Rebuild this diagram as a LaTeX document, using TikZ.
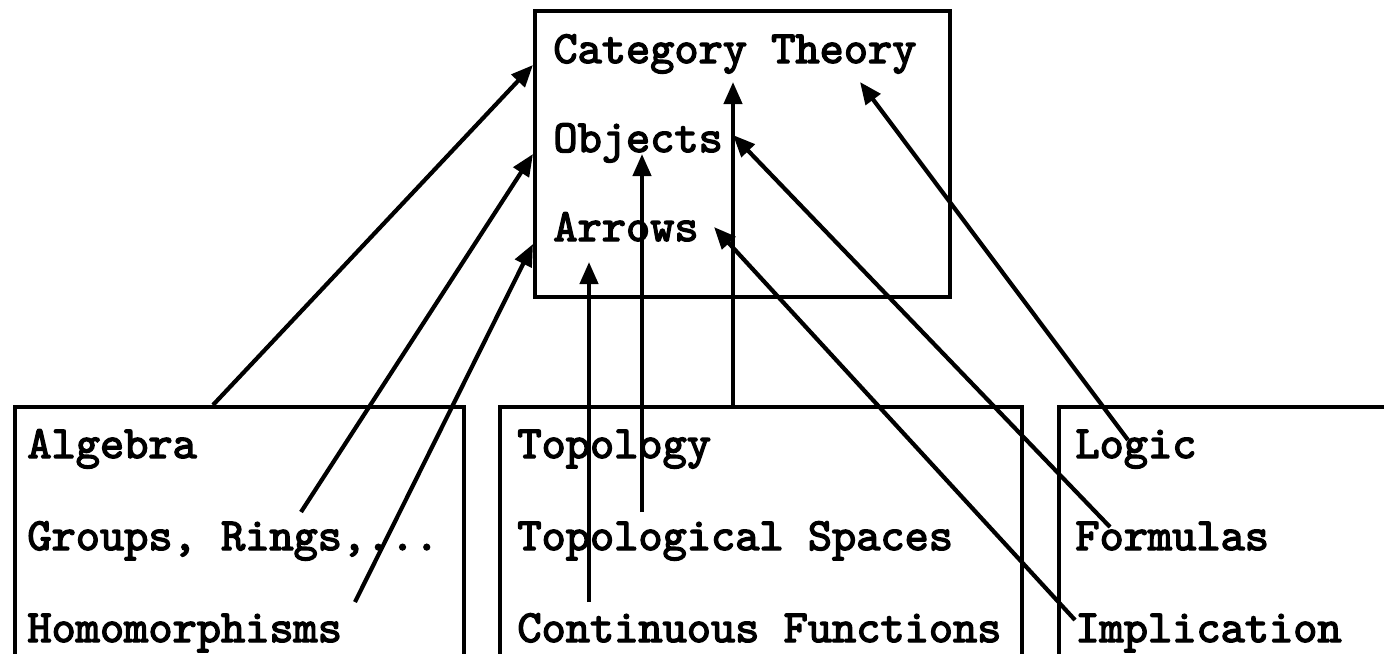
\documentclass[tikz,border=0pt]{standalone}
\usepackage{fontspec}
\newfontfamily\cbold{lmmono10-regular.otf}[FakeBold=3]
\usetikzlibrary{arrows.meta}
\begin{document}
\begin{tikzpicture}[x=0.5pt,y=-0.5pt,
  lbl/.style={anchor=base west, inner sep=0pt, font=\cbold\fontsize{23.05pt}{26pt}\selectfont},
  box/.style={draw, line width=2.2pt, anchor=north west, inner sep=0pt},
  conn/.style={line width=2.1pt, -{Triangle[length=11pt,width=9pt]}}]
\useasboundingbox (0,0) rectangle (1384,653);
\clip (0,0) rectangle (1384,653);
% boxes
\node[box, minimum width=207.5pt, minimum height=143pt] (ctbox) at (533,9) {};
\node[box, minimum width=224.5pt, minimum height=160pt] (algbox) at (13,405) {};
\node[box, minimum width=261pt, minimum height=160pt] (topbox) at (498,405) {};
\node[box, minimum width=190pt, minimum height=160pt] (logbox) at (1057,405) {};
% texts
\node[lbl] (ct) at (553,63) {Category Theory};
\node[lbl] (obj) at (553,152) {Objects};
\node[lbl] (arr) at (553,241) {Arrows};
\node[lbl] (alg) at (27,458) {Algebra};
\node[lbl] (grp) at (27,550) {Groups, Rings,...};
\node[lbl] (hom) at (27,642) {Homomorphisms};
\node[lbl] (top) at (517,458) {Topology};
\node[lbl] (tsp) at (517,550) {Topological Spaces};
\node[lbl] (cf) at (517,642) {Continuous Functions};
\node[lbl] (log) at (1075,458) {Logic};
\node[lbl] (frm) at (1075,550) {Formulas};
\node[lbl] (imp) at (1075,642) {Implication};
% connector end points
\coordinate (s1) at (213,405);  \coordinate (e1) at (533,65);
\coordinate (s2) at (301,512);  \coordinate (e2) at (533,154);
\coordinate (s3) at (355,602);  \coordinate (e3) at (533,244);
\coordinate (s4) at (589,602);  \coordinate (e4) at (589,262);
\coordinate (s5) at (642,512);  \coordinate (e5) at (642,154);
\coordinate (s6) at (733,405);  \coordinate (e6) at (733,82);
\coordinate (s7) at (1075,620); \coordinate (e7) at (714,227);
\coordinate (s8) at (1110,527); \coordinate (e8) at (733,135);
\coordinate (s9) at (1128,440); \coordinate (e9) at (860,82);
\draw[conn] (s1) -- (e1);
\draw[conn] (s2) -- (e2);
\draw[conn] (s3) -- (e3);
\draw[conn] (s4) -- (e4);
\draw[conn] (s5) -- (e5);
\draw[conn] (s6) -- (e6);
\draw[conn] (s7) -- (e7);
\draw[conn] (s8) -- (e8);
\draw[conn] (s9) -- (e9);
\end{tikzpicture}
\end{document}
